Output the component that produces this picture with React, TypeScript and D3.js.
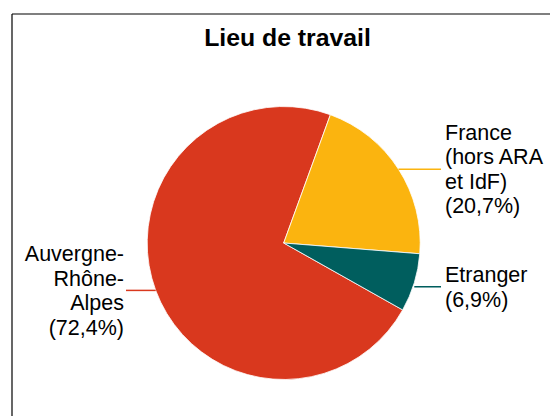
import React from "react";
import * as d3 from "d3";

const categories = ["Auvergne-Rhône-Alpes", "France (hors ARA et IdF)", "Etranger"];
const values = [72.4, 20.7, 6.9];
const labelLines = [
  ["Auvergne-", "Rhône-", "Alpes", "(72,4%)"],
  ["France", "(hors ARA", "et IdF)", "(20,7%)"],
  ["Etranger", "(6,9%)"],
];
const colors = ["#D9381E", "#FBB40F", "#005E5E"];

const W = 550;
const H = 416;
const cx = 283.7;
const cy = 243;
const R = 136.5;
const lineH = 24.5;
const font = "'Liberation Sans', Arial, sans-serif";

export default function App() {
  const total = d3.sum(values);
  const franceStart = (20 * Math.PI) / 180;
  const start = franceStart - (values[0] / total) * 2 * Math.PI;
  const pie = d3
    .pie<number>()
    .sort(null)
    .value((d) => d)
    .startAngle(start)
    .endAngle(start + 2 * Math.PI);
  const arcs = pie(values);
  const arc = d3.arc<d3.PieArcDatum<number>>().innerRadius(0).outerRadius(R);

  return (
    <svg
      width={W}
      height={H}
      style={{ position: "absolute", left: 0, top: 0, background: "#fff" }}
      fontFamily={font}
    >
      <line x1={12} y1={14} x2={550} y2={14} stroke="#000" strokeWidth={1.2} />
      <line x1={12} y1={14} x2={12} y2={416} stroke="#000" strokeWidth={1.2} />
      <text x={287.5} y={46} textAnchor="middle" fontSize={24.8} fontWeight="bold" fill="#000">
        Lieu de travail
      </text>
      <g transform={`translate(${cx},${cy})`}>
        {arcs.map((a, i) => (
          <path key={categories[i]} d={arc(a) || ""} fill={colors[i]} stroke="#fff" strokeWidth={0.8} />
        ))}
      </g>
      {arcs.map((a, i) => {
        const mid = (a.startAngle + a.endAngle) / 2;
        const px = cx + R * Math.sin(mid);
        const py = cy - R * Math.cos(mid) + (i === 2 ? 4 : 0);
        const right = Math.sin(mid) > 0;
        const lx = right ? 441 : 126;
        const tx = right ? 445 : 124;
        const lines = labelLines[i];
        const firstY = py - ((lines.length - 1) * lineH) / 2;
        return (
          <g key={"l" + i}>
            <line x1={px} y1={py} x2={lx} y2={py} stroke={colors[i]} strokeWidth={1.5} />
            <text
              x={tx}
              fontSize={21.5}
              fill="#000"
              textAnchor={right ? "start" : "end"}
            >
              {lines.map((t, j) => (
                <tspan key={j} x={tx} y={firstY + j * lineH} dy="0.35em">
                  {t}
                </tspan>
              ))}
            </text>
          </g>
        );
      })}
    </svg>
  );
}
